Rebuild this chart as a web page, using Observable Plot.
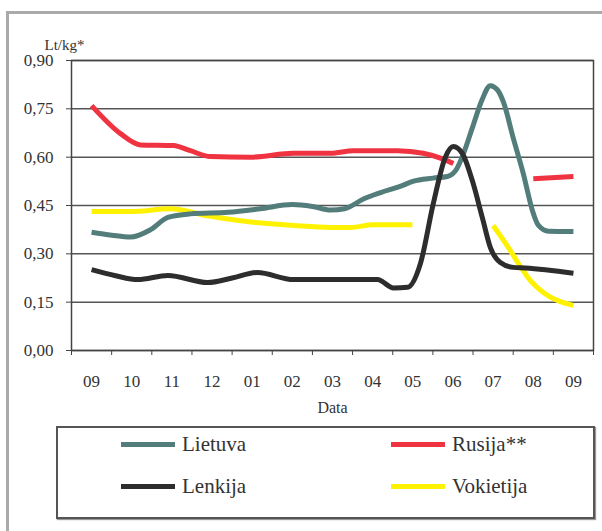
<!DOCTYPE html>
<html>
<head>
<meta charset="utf-8">
<script src="https://cdn.jsdelivr.net/npm/d3@7"></script>
<script src="https://cdn.jsdelivr.net/npm/@observablehq/plot@0.6"></script>
<style>
  html, body { margin: 0; padding: 0; background: #fff; }
  body { width: 602px; height: 531px; position: relative; overflow: hidden; font-family: "Liberation Serif", serif; }
  #border { position: absolute; left: 6px; top: 11px; width: 700px; height: 700px; border-top: 3px solid #aaaaaa; border-left: 3px solid #aaaaaa; }
  #chart { position: absolute; left: 0; top: 0; }
  #legend { position: absolute; left: 56px; top: 426px; width: 535px; height: 89px; border: 2px solid #555; box-shadow: 1px 1px 1px #999; background: #fff; }
  .item { position: absolute; display: flex; align-items: center; font-size: 21px; color: #333; font-family: "Liberation Serif", serif; }
  .sw { width: 54px; height: 5px; margin-right: 7px; }
  #chart svg text { font-family: "Liberation Serif", serif; }
</style>
</head>
<body>
<div id="border"></div>
<div id="chart"></div>
<div id="legend"></div>
<script>
// Month labels along the x axis (Sept to Sept)
const months = ["09","10","11","12","01","02","03","04","05","06","07","08","09"];
const yTicks = [0, 0.15, 0.30, 0.45, 0.60, 0.75, 0.90];
const seriesNames = ["Lietuva", "Rusija**", "Lenkija", "Vokietija"];
const seriesColors = ["#527d7b", "#ef3340", "#2d2d2d", "#fff200"];

// [month index, Lt/kg]
const lietuva = [
  [0,0.367],[0.5,0.358],[0.97,0.352],[1.47,0.375],[1.9,0.413],[2.46,0.424],[3.4,0.429],
  [4.2,0.44],[5.0,0.453],[5.5,0.447],[5.95,0.436],[6.3,0.44],[6.77,0.47],[7.2,0.49],
  [7.7,0.51],[8.0,0.525],[8.5,0.535],[8.86,0.54],[9.1,0.565],[9.26,0.61],[9.48,0.69],
  [9.73,0.78],[9.93,0.822],[10.1,0.81],[10.26,0.77],[10.5,0.66],[10.75,0.55],
  [10.98,0.434],[11.13,0.388],[11.38,0.37],[12,0.369]
];
const rusija = [
  [0,0.76],[0.72,0.673],[1.22,0.638],[2.04,0.636],[2.46,0.62],[2.96,0.602],[3.96,0.60],
  [5.03,0.612],[5.95,0.612],[6.52,0.62],[7.62,0.62],[8.26,0.612],[8.76,0.594],[9.01,0.58],
  [10,NaN],
  [11.0,0.533],[12,0.54]
];
const lenkija = [
  [0,0.251],[0.6,0.232],[1.15,0.22],[1.9,0.233],[2.89,0.211],[3.5,0.225],[4.13,0.242],
  [5.03,0.22],[6.0,0.22],[7.12,0.22],[7.52,0.194],[7.87,0.196],[8.19,0.27],[8.51,0.456],
  [8.81,0.60],[9.01,0.633],[9.24,0.61],[9.48,0.528],[9.73,0.413],[9.93,0.32],[10.18,0.273],
  [10.5,0.258],[10.8,0.256],[12,0.24]
];
const vokietija = [
  [0,0.431],[0.97,0.431],[1.97,0.44],[2.89,0.418],[4.03,0.398],[5.03,0.388],[5.95,0.382],
  [6.45,0.382],[7.02,0.39],[7.99,0.39],
  [9,NaN],
  [10.0,0.388],[10.43,0.31],[10.63,0.27],[10.93,0.217],[11.25,0.18],[12,0.14]
];

const seriesData = [lietuva, rusija, lenkija, vokietija];
const drawOrder = [3, 1, 0, 2];
const fmt = d => d.toFixed(2).replace(".", ",");

const lineMarks = drawOrder.map(i => Plot.line(seriesData[i], {
  x: d => d[0], y: d => d[1],
  stroke: seriesColors[i], strokeWidth: 5, curve: "monotone-x",
  strokeLinejoin: "round", strokeLinecap: "butt"
}));

const chart = Plot.plot({
  width: 602, height: 425,
  marginLeft: 71, marginRight: 9, marginTop: 60, marginBottom: 75,
  style: { fontFamily: "Liberation Serif, serif", fontSize: "17px", color: "#333", background: "transparent" },
  x: { domain: [-0.5, 12.5] },
  y: { domain: [0, 0.9] },
  marks: [
    Plot.gridY(yTicks, { stroke: "#555", strokeOpacity: 1, strokeWidth: 1.5 }),
    Plot.frame({ stroke: "#444", strokeWidth: 1.5 }),
    Plot.axisY(yTicks, { tickSize: 5, tickPadding: 13, tickFormat: fmt, label: null, stroke: "#444" }),
    Plot.axisX(d3.range(-0.5, 13, 1), { tickSize: 5, tickFormat: () => "", label: null, stroke: "#444" }),
    Plot.axisX(d3.range(0, 13), { tickSize: 0, tickPadding: 24, tickFormat: i => months[i], label: null }),
    ...lineMarks,
    Plot.text(["Lt/kg*"], { frameAnchor: "top-left", dx: -7, dy: -21, text: d => d, textAnchor: "middle", fontSize: 15, fill: "#333" }),
    Plot.text(["Data"], { frameAnchor: "bottom", dy: 62, text: d => d, fontSize: 16, fill: "#333" })
  ]
});
document.getElementById("chart").appendChild(chart);

// Legend
const legend = document.getElementById("legend");
const pos = [[63, 4], [333, 4], [63, 46], [333, 46]];
seriesNames.forEach((name, i) => {
  const el = document.createElement("div");
  el.className = "item";
  el.style.left = pos[i][0] + "px";
  el.style.top = pos[i][1] + "px";
  el.innerHTML = `<div class="sw" style="background:${seriesColors[i]}"></div><span>${name}</span>`;
  legend.appendChild(el);
});
</script>
</body>
</html>
